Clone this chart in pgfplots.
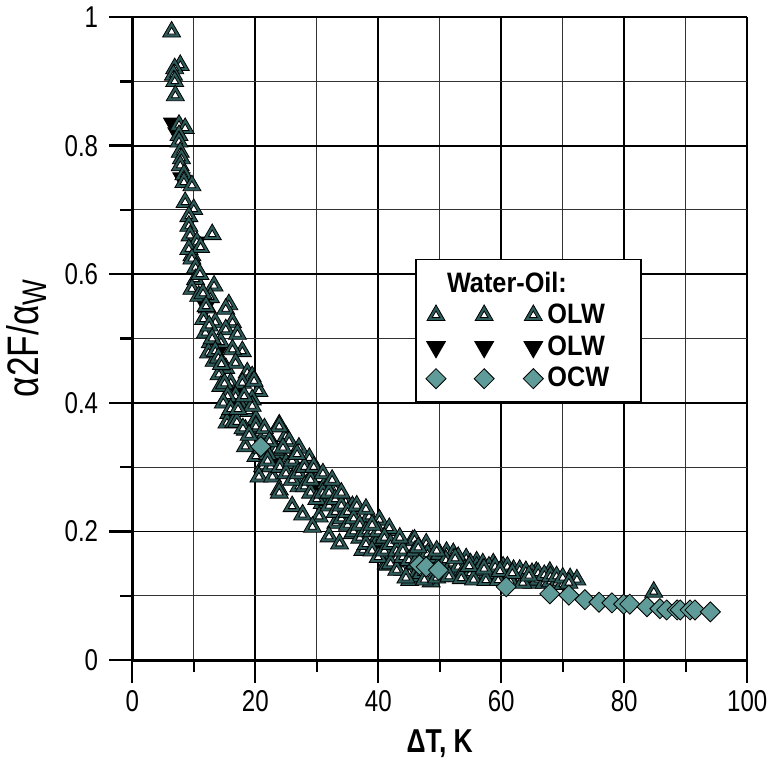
\documentclass[border=0pt]{standalone}
\usepackage{pgfplots}
\pgfplotsset{compat=1.18}
\usepackage{fontspec}
\setmainfont{Liberation Sans}
\newfontfamily\narrowfont{Liberation Sans}[FakeStretch=0.8]
\newfontfamily\legfont{Liberation Sans}[FakeStretch=0.9]
\definecolor{triteal}{RGB}{45,92,90}
\definecolor{diafill}{RGB}{95,155,152}

\pgfdeclareplotmark{otri}{%
  \pgfpathmoveto{\pgfqpoint{0pt}{\pgfplotmarksize}}%
  \pgfpathlineto{\pgfqpoint{-0.866\pgfplotmarksize}{-0.5\pgfplotmarksize}}%
  \pgfpathlineto{\pgfqpoint{0.866\pgfplotmarksize}{-0.5\pgfplotmarksize}}%
  \pgfpathclose
  \pgfsetfillcolor{triteal}%
  \pgfusepathqfillstroke
  \pgfpathmoveto{\pgfqpoint{0pt}{0.42\pgfplotmarksize}}%
  \pgfpathlineto{\pgfqpoint{-0.364\pgfplotmarksize}{-0.21\pgfplotmarksize}}%
  \pgfpathlineto{\pgfqpoint{0.364\pgfplotmarksize}{-0.21\pgfplotmarksize}}%
  \pgfpathclose
  \pgfsetfillcolor{white}%
  \pgfusepathqfillstroke
}
\pgfdeclareplotmark{odia}{%
  \pgfpathmoveto{\pgfqpoint{0pt}{\pgfplotmarksize}}%
  \pgfpathlineto{\pgfqpoint{\pgfplotmarksize}{0pt}}%
  \pgfpathlineto{\pgfqpoint{0pt}{-\pgfplotmarksize}}%
  \pgfpathlineto{\pgfqpoint{-\pgfplotmarksize}{0pt}}%
  \pgfpathclose
  \pgfsetfillcolor{diafill}%
  \pgfusepathqfillstroke
}

\begin{document}
\begin{tikzpicture}
\begin{axis}[
  scale only axis, width=306.5pt, height=320.5pt,
  xmin=0, xmax=100, ymin=0, ymax=1,
  axis lines=left, axis line style={-, line width=1.4pt},
  xtick={0,20,40,60,80,100}, ytick={0,0.2,0.4,0.6,0.8,1},
  minor xtick={10,30,50,70,90}, minor ytick={0.1,0.3,0.5,0.7,0.9},
  grid=both,
  major grid style={black, line width=0.9pt},
  minor grid style={black!80, line width=0.5pt},
  tick align=outside, major tick length=11.5pt, minor tick length=6pt,
  every tick/.style={black, line width=1.2pt},
  ticklabel style={font=\narrowfont\fontsize{15}{17}\selectfont},
  yticklabel style={xshift=-2pt},
  /pgf/number format/assume math mode=true,
  xlabel={ΔT, K},
  xlabel style={font=\narrowfont\bfseries\fontsize{16.5}{18}\selectfont, yshift=-2pt},
  ylabel={α2F/α\raisebox{-0.35ex}{\fontsize{17}{19}\selectfont W}},
  ylabel style={font=\narrowfont\fontsize{22}{24}\selectfont, yshift=2pt},
  legend style={at={(axis cs:46.0,0.624)}, anchor=north west, draw=black, line width=0.8pt, fill=white,
    font=\legfont\bfseries\fontsize{14}{16}\selectfont, inner xsep=5pt, inner ysep=4pt, row sep=0.5pt,
    cells={anchor=west}},
]
% down triangles (OLW, black)
\addplot[only marks, mark=triangle*, mark size=5pt, mark options={rotate=180}, black, forget plot] coordinates {
(6.5,0.835) (7.2,0.82) (8,0.75) (10.5,0.65) (12,0.55) (14,0.48) (17,0.42) (20,0.36)
(24,0.31) (27,0.30) (30,0.27) (35,0.22) (40,0.18) (45,0.15) (50,0.145) (55,0.14)
(60,0.135) (65,0.13) (70,0.125) (47,0.14) (52,0.14) (57,0.135) (62,0.13) (67,0.127) (71,0.123)
};
% open triangles (OLW)
\addplot[only marks, mark=otri, mark size=5.2pt, black, line width=0.4pt, forget plot] coordinates {
(6.4,0.977) (7.8,0.925) (6.9,0.92) (6.7,0.91) (6.9,0.90) (7.0,0.878) (7.6,0.832) (8.6,0.827)
(7.6,0.816) (7.6,0.806) (7.8,0.79) (8.0,0.78) (7.8,0.769) (8.4,0.755) (8.4,0.743) (9.7,0.738)
(8.6,0.712) (10.0,0.701) (9.2,0.69) (9.2,0.675) (13.0,0.662) (9.4,0.66) (10.5,0.65) (9.7,0.629)
(9.2,0.639) (11.1,0.642) (9.7,0.624) (10.3,0.61) (10.3,0.592) (13.3,0.582) (9.7,0.577) (10.8,0.566)
(12.7,0.564) (15.7,0.553) (15.2,0.546) (12.2,0.548) (11.6,0.53) (13.5,0.525) (16.3,0.525) (15.2,0.514)
(11.9,0.509) (17.1,0.507) (12.7,0.494) (14.4,0.494) (17.9,0.48) (12.4,0.478) (16.3,0.483) (13.3,0.465)
(15.2,0.454) (16.8,0.462) (18.7,0.447) (14.1,0.444) (19.5,0.441) (16.0,0.431) (14.4,0.426) (17.9,0.431)
(20.6,0.418) (16.8,0.41) (19.5,0.405) (17.6,0.395) (15.7,0.384) (19.0,0.387) (15.4,0.369) (20.1,0.374)
(23.9,0.366) (18.4,0.358) (20.6,0.353) (18.4,0.332) (25.0,0.348) (23.0,0.332) (20.1,0.317) (23.9,0.322)
(21.2,0.301) (25.0,0.306) (20.6,0.285) (22.8,0.285) (26.6,0.291) (23.9,0.265) (28.8,0.28) (27.1,0.27)
(31.5,0.27) (19.8,0.434) (19.5,0.395) (23.9,0.363) (20.1,0.363) (21.7,0.353) (25.5,0.34) (23.3,0.327)
(27.1,0.33) (28.8,0.314) (22.5,0.301) (30.1,0.293) (31.5,0.275) (23.9,0.26) (33.1,0.265) (26.0,0.239)
(30.9,0.244) (34.7,0.246) (27.7,0.226) (30.4,0.223) (35.8,0.239) (33.1,0.213) (29.3,0.207) (38.5,0.223)
(40.2,0.218) (35.8,0.197) (32.0,0.192) (41.8,0.202) (37.5,0.171) (33.7,0.181) (39.6,0.186) (45.6,0.186)
(41.3,0.15) (42.9,0.166) (47.8,0.181) (44.5,0.15) (41.8,0.205) (40.2,0.189) (45.9,0.187) (51.1,0.168)
(52.2,0.166) (41.5,0.148) (44.0,0.14) (48.9,0.135) (54.3,0.158) (56.0,0.153) (58.7,0.15) (54.3,0.129)
(56.5,0.135) (60.3,0.145) (63.0,0.135) (65.7,0.137) (67.9,0.137) (71.2,0.127) (72.3,0.125) (65.2,0.129)
(84.8,0.106) (45.1,0.124) (48.6,0.122) (40.7,0.161) (42.9,0.158)
(11,0.60) (11.5,0.57) (12,0.55) (12.5,0.52) (13,0.50) (13.5,0.48) (14,0.47) (14.5,0.46) (15,0.43)
(15.5,0.41) (14.8,0.40) (16,0.39) (16.5,0.37) (17,0.37) (18,0.36) (19,0.35) (21,0.33) (22,0.32)
(22,0.31) (24,0.30) (25,0.29) (26,0.28) (26,0.31) (27,0.29) (28,0.27) (28,0.30) (29,0.26) (29,0.28)
(30,0.25) (31,0.26) (32,0.24) (32,0.26) (33,0.23) (33,0.25) (34,0.22) (34,0.24) (35,0.21) (35,0.23)
(36,0.20) (36,0.22) (37,0.19) (37,0.21) (38,0.18) (38,0.20) (39,0.17) (39,0.20) (40,0.16) (40,0.20)
(41,0.17) (41,0.19) (42,0.15) (42,0.18) (43,0.14) (43,0.17) (44,0.16) (44,0.17) (45,0.135) (45,0.155)
(46,0.13) (46,0.15) (46,0.17) (47,0.135) (47,0.155) (48,0.13) (48,0.15) (48,0.165) (49,0.145) (49,0.16)
(50,0.13) (50,0.15) (50,0.165) (51,0.14) (51,0.155) (52,0.135) (52,0.15) (53,0.13) (53,0.145) (53,0.16)
(54,0.14) (55,0.135) (55,0.15) (56,0.13) (56,0.145) (57,0.14) (57,0.15) (58,0.13) (58,0.145) (59,0.135)
(59,0.145) (60,0.13) (60,0.14) (61,0.13) (61,0.145) (62,0.125) (62,0.14) (63,0.128) (63,0.14) (64,0.125)
(64,0.138) (65,0.12) (65,0.135) (66,0.125) (66,0.135) (67,0.12) (67,0.132) (68,0.122) (68,0.13) (69,0.12)
(69,0.13) (70,0.118) (70,0.128) (71,0.12)
(44.5,0.128) (47.5,0.125) (49.5,0.128) (51.5,0.13) (53.5,0.127) (55.5,0.125) (57.5,0.124) (59.5,0.124)
(61.5,0.122) (63.5,0.12) (52.5,0.158) (54.8,0.146) (57.2,0.142) (59.8,0.138) (61.8,0.135) (64.5,0.131)
(17.2,0.39) (18.2,0.41) (21.5,0.36) (22.3,0.34) (24.5,0.33) (26.8,0.32) (29.5,0.30) (31,0.29)
(32.5,0.28) (34,0.26) (36.5,0.24) (38,0.235) (39,0.21) (43.5,0.19) (46.5,0.175) (49.5,0.17)
};
% diamonds (OCW)
\addplot[only marks, mark=odia, mark size=5pt, black, line width=0.4pt, forget plot] coordinates {
(20.9,0.332) (46.7,0.148) (47.8,0.145) (49.8,0.140) (60.8,0.114) (67.9,0.103) (71.0,0.101)
(73.6,0.094) (75.9,0.090) (78.0,0.089) (79.9,0.087) (80.9,0.087) (83.7,0.083) (85.8,0.080)
(86.9,0.078) (88.6,0.078) (89.1,0.078) (90.7,0.078) (91.5,0.078) (94.0,0.075)
};
\addlegendimage{empty legend}
\addlegendentry{\hspace*{-50pt}Water-Oil:}
\addlegendimage{legend image code/.code={\draw[only marks, mark=otri, mark size=5.2pt, black, line width=0.4pt] plot coordinates {(0pt,0pt) (24pt,0pt) (48.5pt,0pt)};}}
\addlegendentry{OLW\hspace*{9pt}}
\addlegendimage{legend image code/.code={\draw[only marks, mark=triangle*, mark size=5pt, mark options={rotate=180}, black] plot coordinates {(0pt,0pt) (24pt,0pt) (48.5pt,0pt)};}}
\addlegendentry{OLW\hspace*{9pt}}
\addlegendimage{legend image code/.code={\draw[only marks, mark=odia, mark size=5pt, black, line width=0.4pt] plot coordinates {(0pt,0pt) (24pt,0pt) (48.5pt,0pt)};}}
\addlegendentry{OCW\hspace*{9pt}}
\end{axis}
\end{tikzpicture}
\end{document}
